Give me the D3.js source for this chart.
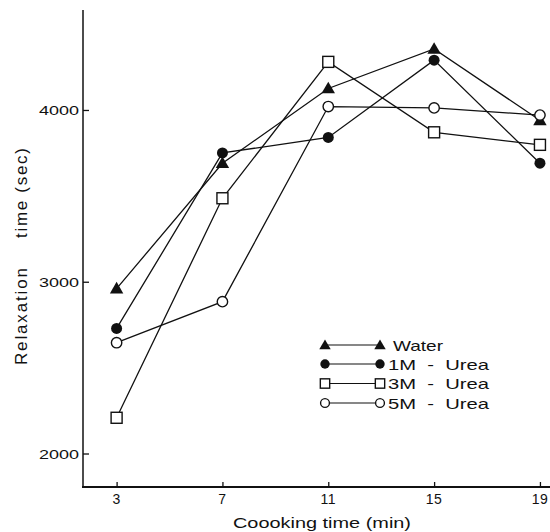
<!DOCTYPE html>
<html>
<head>
<meta charset="utf-8">
<script src="https://cdn.jsdelivr.net/npm/d3@7"></script>
<style>
body { margin: 0; background: #fff; }
text { font-family: "Liberation Sans", Arial, sans-serif; fill: #111; }
</style>
</head>
<body>
<div id="chart"></div>
<script>
// cooking times (min)
var times = [3, 7, 11, 15, 19];
var water = [2960, 3690, 4125, 4355, 3940];
var urea1 = [2728, 3750, 3840, 4290, 3690];
var urea3 = [2208, 3486, 4280, 3870, 3797];
var urea5 = [2645, 2884, 4020, 4012, 3970];
var yTicks = [2000, 3000, 4000];
var seriesNames = ["Water", "1M  -  Urea", "3M  -  Urea", "5M  -  Urea"];
var seriesMarks = ["tri", "dot", "sq", "circ"];

var W = 550, H = 532;
var svg = d3.select("#chart").append("svg")
	.attr("width", W)
	.attr("height", H);

var x = d3.scaleLinear().domain([1.73, 19.38]).range([83, 550]);
var y = d3.scaleLinear().domain([1805, 4582]).range([487, 10]);

// axes
svg.append("line")
	.attr("x1", 83).attr("x2", 83)
	.attr("y1", y(4582)).attr("y2", y(1805))
	.attr("stroke", "#111").attr("stroke-width", 1.5);
svg.append("line")
	.attr("x1", 82).attr("x2", 550)
	.attr("y1", y(1805)).attr("y2", y(1805))
	.attr("stroke", "#111").attr("stroke-width", 2);

var yAxis = svg.append("g")
	.attr("transform", "translate(83,0)")
	.call(d3.axisRight(y).tickValues(yTicks).tickSize(6).tickFormat(""));
yAxis.select(".domain").remove();
yAxis.selectAll("line").attr("stroke", "#111").attr("stroke-width", 1.3);

svg.selectAll(".ylab").data(yTicks).enter().append("text")
	.attr("class", "ylab")
	.attr("x", 79)
	.attr("y", function(d) { return y(d) + 5; })
	.attr("text-anchor", "end")
	.attr("font-size", 13.5)
	.attr("textLength", 40)
	.attr("lengthAdjust", "spacingAndGlyphs")
	.text(function(d) { return d; });

var xAxis = svg.append("g")
	.attr("transform", "translate(0," + y(1805) + ")")
	.call(d3.axisTop(x).tickValues(times).tickSize(5).tickFormat(""));
xAxis.select(".domain").remove();
xAxis.selectAll("line").attr("stroke", "#111").attr("stroke-width", 1.3);

svg.selectAll(".xlab").data(times).enter().append("text")
	.attr("class", "xlab")
	.attr("x", function(d) { return x(d); })
	.attr("y", 504)
	.attr("text-anchor", "middle")
	.attr("font-size", 14)
	.attr("letter-spacing", 0.5)
	.text(function(d) { return d; });

svg.append("text")
	.attr("x", 233).attr("y", 528)
	.attr("font-size", 15.5)
	.attr("textLength", 178)
	.attr("lengthAdjust", "spacingAndGlyphs")
	.text("Coooking time (min)");

// y title in two pieces, as in the original
svg.append("text")
	.attr("transform", "translate(27,365) rotate(-90)")
	.attr("font-size", 17)
	.attr("textLength", 97)
	.attr("lengthAdjust", "spacing")
	.text("Relaxation");
svg.append("text")
	.attr("transform", "translate(27,238) rotate(-90)")
	.attr("font-size", 17)
	.attr("textLength", 90)
	.attr("lengthAdjust", "spacing")
	.text("time (sec)");

// markers
function mark(g, type, cx, cy, s) {
	s = s || 1;
	if (type == "tri") {
		g.append("path")
			.attr("d", d3.symbol().type(d3.symbolTriangle).size(78 * s * s)())
			.attr("transform", "translate(" + cx + "," + (cy + 1) + ")")
			.attr("fill", "#111");
	} else if (type == "dot") {
		g.append("circle").attr("cx", cx).attr("cy", cy).attr("r", 5.5 * s).attr("fill", "#111");
	} else if (type == "sq") {
		var h = 5.5 * s;
		g.append("rect").attr("x", cx - h).attr("y", cy - h)
			.attr("width", 2 * h).attr("height", 2 * h)
			.attr("fill", "#fff").attr("stroke", "#111").attr("stroke-width", 1.4);
	} else {
		g.append("circle").attr("cx", cx).attr("cy", cy).attr("r", 5.2 * s)
			.attr("fill", "#fff").attr("stroke", "#111").attr("stroke-width", 1.4);
	}
}

var allSeries = [water, urea1, urea3, urea5];
var line = d3.line()
	.x(function(d, i) { return x(times[i]); })
	.y(function(d) { return y(d); });

allSeries.forEach(function(s) {
	svg.append("path")
		.attr("d", line(s))
		.attr("fill", "none")
		.attr("stroke", "#111")
		.attr("stroke-width", 1.3);
});
allSeries.forEach(function(s, k) {
	var g = svg.append("g");
	s.forEach(function(v, i) { mark(g, seriesMarks[k], x(times[i]), y(v)); });
});

// legend
var legY = [345, 364, 383.5, 403];
var legLen = [50, 101, 101, 101];
seriesNames.forEach(function(name, k) {
	var g = svg.append("g");
	g.append("line")
		.attr("x1", 325).attr("x2", 380)
		.attr("y1", legY[k]).attr("y2", legY[k])
		.attr("stroke", "#111").attr("stroke-width", 1.2);
	mark(g, seriesMarks[k], 325, legY[k], 0.85);
	mark(g, seriesMarks[k], 380, legY[k], 0.85);
	g.append("text")
		.attr("x", k == 0 ? 393 : 388)
		.attr("y", legY[k] + 5.5)
		.attr("font-size", 15)
		.attr("textLength", legLen[k])
		.attr("lengthAdjust", "spacingAndGlyphs")
		.style("white-space", "pre")
		.text(name);
});
</script>
</body>
</html>
